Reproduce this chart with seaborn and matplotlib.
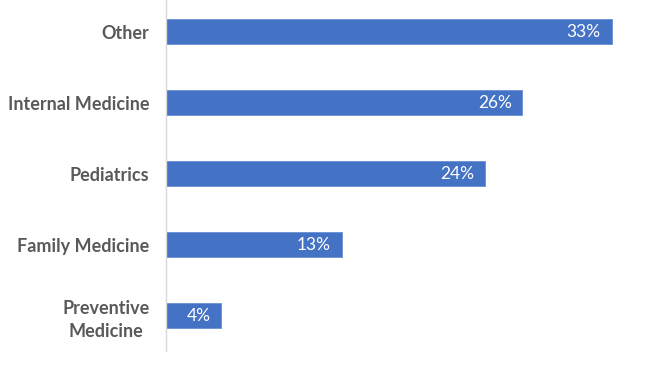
import pandas as pd
import matplotlib.pyplot as plt
import seaborn as sns

specialties = ['Other', 'Internal Medicine', 'Pediatrics', 'Family Medicine',
               'Preventive\nMedicine']
shares = [33.0, 26.4, 23.6, 13.0, 4.1]

df = pd.DataFrame({'specialty': specialties, 'share': shares})

sns.set_style('white')
plt.rcParams['font.family'] = ['Lato', 'DejaVu Sans']

fig = plt.figure(figsize=(6.5, 3.65), dpi=100)
ax = fig.add_axes([166 / 650, 14 / 365, 484 / 650, 351 / 365])

sns.barplot(data=df, x='share', y='specialty', orient='h', color='#4472C4',
            saturation=1, width=0.352, edgecolor='#6a8fd4', linewidth=0.6, ax=ax)

ax.set_xlim(0, 484 / 13.5)
ax.set_ylim(4.5, -31.5 / 71)

for i, v in enumerate(shares):
    ax.text(v - 0.8, i, f'{v:.0f}%', color='white', fontsize=12.5,
            ha='right', va='center')

ax.set_xlabel('')
ax.set_ylabel('')
ax.set_xticks([])
ax.tick_params(axis='y', length=0, pad=12)
for lbl in ax.get_yticklabels():
    lbl.set_fontweight('bold')
    lbl.set_color('#595959')
    lbl.set_fontsize(13)
    lbl.set_multialignment('center')
    lbl.set_linespacing(1.45)

for s in ['top', 'right', 'bottom']:
    ax.spines[s].set_visible(False)
ax.spines['left'].set_color('#d9d9d9')
ax.spines['left'].set_linewidth(1)

plt.savefig('out.png', dpi=100)
plt.close()
